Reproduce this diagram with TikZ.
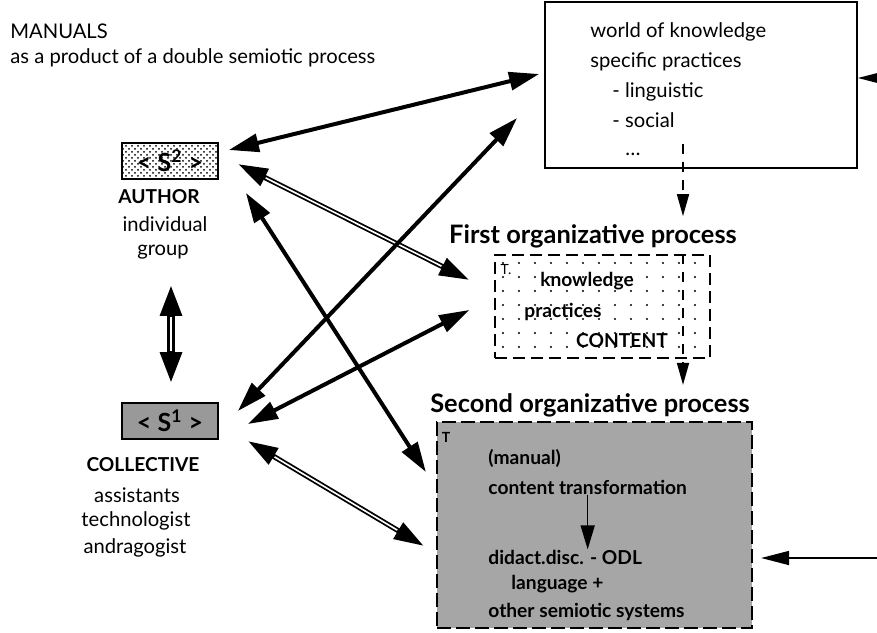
\documentclass[tikz,border=0pt]{standalone}
\usepackage{fontspec}
\setmainfont{Lato}
\usetikzlibrary{positioning,arrows.meta,patterns}
\tikzset{
  txt/.style={font=\fontsize{10.1}{12}\selectfont, inner sep=0pt},
  txtb/.style={font=\fontsize{9.6}{12}\selectfont\bfseries, inner sep=0pt},
  headline/.style={font=\fontsize{12.7}{14}\selectfont\bfseries, inner sep=0pt},
  tmark/.style={font=\fontsize{7}{8}\selectfont, inner sep=0pt},
  worldbox/.style={draw, line width=0.9pt, minimum width=156pt, minimum height=83pt, inner sep=0pt},
  orgbox/.style={draw, line width=0.8pt, dash pattern=on 6pt off 3pt, inner sep=0pt},
  sbox/.style={draw, line width=0.9pt, minimum width=48pt, minimum height=18pt, inner sep=0pt,
               font=\fontsize{12.5}{13}\selectfont\bfseries},
  thickarr/.style={line width=2pt, {Triangle[length=15pt,width=9pt]}-{Triangle[length=15pt,width=9pt]}},
  twinarr/.style={line width=2.6pt, {Triangle[length=15pt,width=9pt]}-{Triangle[length=15pt,width=9pt]}},
  twincore/.style={draw=white, line width=0.8pt, shorten <=15.5pt, shorten >=15.5pt},
  bigtwin/.style={line width=4pt, {Triangle[length=16pt,width=10pt]}-{Triangle[length=16pt,width=10pt]}},
  bigtwincore/.style={draw=white, line width=1.2pt, shorten <=16.5pt, shorten >=16.5pt},
  dasharr/.style={line width=0.8pt, dash pattern=on 5pt off 4pt, -{Triangle[length=11pt,width=6pt]}},
  sidearr/.style={line width=0.8pt, -{Triangle[length=14pt,width=7pt]}},
  midarr/.style={line width=0.8pt, -{Triangle[length=12pt,width=7pt]}},
}
\newcommand{\twinarrow}[2]{\draw[twinarr] #1 -- #2; \draw[twincore] #1 -- #2;}
\newcommand{\bigtwinarrow}[2]{\draw[bigtwin] #1 -- #2; \draw[bigtwincore] #1 -- #2;}

\begin{document}
\begin{tikzpicture}[x=0.5pt,y=-0.5pt]
  \useasboundingbox (0,0) rectangle (877,632);
  \clip (0,0) rectangle (877,632);

  \node[txt, anchor=base west] (title) at (10,38) {MANUALS};
  \node[txt, anchor=base west] (subtitle) at (10,63) {as a product of a double semiotic process};

  \node[worldbox] (world) at (701,85) {};
  \node[txt, anchor=base west] (wk1) at (590,37) {world of knowledge};
  \node[txt, anchor=base west] (wk2) at (590,67) {specific practices};
  \node[txt, anchor=base west] (wk3) at (612,97) {- linguistic};
  \node[txt, anchor=base west] (wk4) at (612,127) {- social};
  \node[txt, anchor=base west] (wk5) at (625,155) {\dots};

  \node[sbox, pattern=crosshatch dots] (s2) at (170,161) {< S\textsuperscript{2} >};
  \node[txtb] (author) at (159,197) {AUTHOR};
  \node[txt] (indiv) at (165,224) {individual};
  \node[txt] (group) at (163,252) {group};

  \node[sbox, fill=black!40] (s1) at (170,421) {< S\textsuperscript{1} >};
  \node[txtb] (collective) at (143,465) {COLLECTIVE};
  \node[txt] (assist) at (137,495) {assistants};
  \node[txt] (techno) at (136,521) {technologist};
  \node[txt] (andra) at (135,548) {andragogist};

  \node[headline] (firsthead) at (593,236) {First organizative process};
  \foreach \x in {503,519,...,703}
    \foreach \y in {263,277,...,352}
      \fill (\x,\y) circle (0.6pt);
  \node[orgbox, minimum width=107.5pt, minimum height=51.5pt] (first) at (602.5,306.5) {};
  \node[tmark] (tmark1) at (506,270) {T.};
  \node[txtb] (knowledge) at (587,281) {knowledge};
  \node[txtb] (practices) at (563,312) {practices};
  \node[txtb] (content) at (622,341) {CONTENT};

  \node[headline] (secondhead) at (590,405) {Second organizative process};
  \node[orgbox, fill=black!35, line width=1.1pt, dash pattern=on 7pt off 2.5pt,
        minimum width=157.5pt, minimum height=103pt] (second) at (594.5,525) {};
  \node[tmark, font=\fontsize{7}{8}\selectfont\bfseries] (tmark2) at (446,437) {T};
  \node[txtb, anchor=west] (manual) at (488,458) {(manual)};
  \node[txtb, anchor=west] (transf) at (488,487) {content transformation};
  \node[txtb, anchor=west] (didact) at (488,557) {didact.disc. - ODL};
  \node[txtb, anchor=west] (lang) at (511,584) {language +};
  \node[txtb, anchor=west] (other) at (488,612) {other semiotic systems};

  \coordinate (inworld) at (900,78);
  \coordinate (insecond) at (900,558);

  \draw[midarr] (transf.south) -- (transf.south |- didact.north);
  \draw[dasharr] ([xshift=-9pt,yshift=12.5pt]world.south) -- ([xshift=40.25pt,yshift=19pt]first.north);
  \draw[dasharr] ([xshift=40.25pt]first.north) -- ([xshift=44.25pt,yshift=18pt]second.north);
  \draw[sidearr] (inworld) -- ([yshift=3.5pt]world.east);
  \draw[sidearr] (insecond) -- ([xshift=4pt,yshift=-16.5pt]second.east);

  \draw[thickarr] ([xshift=-2.5pt,yshift=5.5pt]world.west) -- ([xshift=5pt,yshift=5.5pt]s2.east);
  \twinarrow{([xshift=9.5pt,yshift=-1.5pt]s2.east)}{([xshift=-12.5pt,yshift=13.25pt]first.west)}
  \draw[thickarr] ([xshift=13.5pt,yshift=-6.5pt]s2.south east) -- ([xshift=-5pt,yshift=26.5pt]second.west);
  \draw[thickarr] ([xshift=9.5pt,yshift=5pt]s1.east) -- ([xshift=-13.5pt,yshift=-16.5pt]world.west);
  \draw[thickarr] ([xshift=14.5pt,yshift=-1.5pt]s1.east) -- ([xshift=-12.5pt,yshift=-1.75pt]first.west);
  \twinarrow{([xshift=14.5pt,yshift=-10pt]s1.east)}{([xshift=-6pt,yshift=-10.5pt]second.west)}
  \bigtwinarrow{([xshift=0.5pt,yshift=-52pt]s2.south)}{([xshift=0.5pt,yshift=9pt]s1.north)}

\end{tikzpicture}
\end{document}
